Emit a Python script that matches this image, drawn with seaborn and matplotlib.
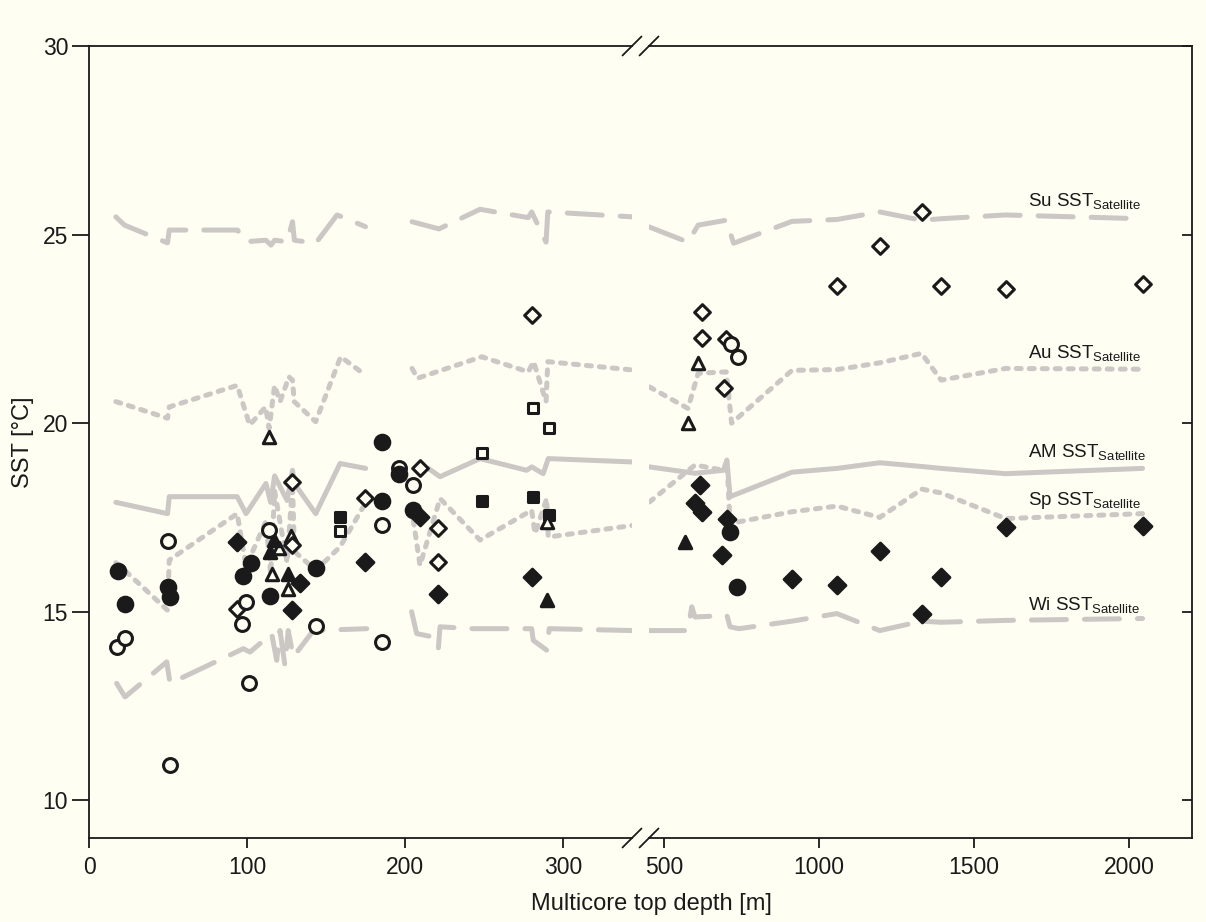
import numpy as np
import matplotlib
matplotlib.use("Agg")
import matplotlib.pyplot as plt
import seaborn as sns

sns.set_theme(style="white")
plt.rcParams['font.family'] = ['Liberation Sans', 'DejaVu Sans']
plt.rcParams['mathtext.fontset'] = 'custom'
plt.rcParams['mathtext.rm'] = 'Liberation Sans'
plt.rcParams['mathtext.it'] = 'Liberation Sans:italic'

BG = '#fefef3'
GREY = '#cbc7c5'
INK = '#1a1a1a'
nan = np.nan

# ---------------- satellite SST lines (depth m, SST degC) ----------------
su_x = [17, 22.5, 49.7, 50.8, 94, 99.4, 112, 115.2, 117.5, 125.4, 128.8, 130, 143.5, 157, 175, nan,
        204.5, 221.5, 247.5, 278, 280.2, 289.3, 290.4, 344,
        nan, 453, 577, 610, 700.8, 724.5, 913, 1058, 1196, 1331, 1394, 1602, 2044]
su_y = [25.47, 25.25, 24.78, 25.12, 25.12, 24.81, 24.85, 24.72, 24.85, 24.81, 25.34, 24.85, 24.77, 25.52, 25.21, nan,
        25.34, 25.15, 25.67, 25.45, 25.6, 24.8, 25.6, 25.47,
        nan, 25.2, 24.8, 25.25, 25.38, 24.77, 25.35, 25.4, 25.6, 25.38, 25.42, 25.52, 25.42]

au_x = [17, 22.5, 49.7, 50.8, 93.8, 101.7, 111.8, 114, 117.5, 120.9, 124.3, 126.5, 128.8, 129.9, 143.5, 159.3, 175.1, nan,
        204.5, 207.9, 248.6, 278, 281.4, 289.3, 290.4, 344,
        nan, 453, 577, 610, 700.8, 718, 913, 1058, 1196, 1331, 1394, 1602, 2044]
au_y = [20.57, 20.5, 20.13, 20.43, 21.0, 19.95, 20.43, 19.86, 21.0, 20.57, 20.96, 21.23, 21.14, 20.57, 20.04, 21.76, 21.27, nan,
        21.45, 21.19, 21.76, 21.36, 21.63, 20.57, 21.63, 21.41,
        nan, 20.96, 20.39, 21.32, 21.36, 20.0, 21.4, 21.42, 21.6, 21.85, 21.14, 21.45, 21.43]

am_x = [17, 22.5, 49.7, 50.8, 93.8, 99.4, 112, 115, 117.5, 125.4, 128.8, 130, 143.5, 158.9, 175.1, nan,
        214.8, 222.2, 247.5, 277, 280.2, 287.5, 290.7, 344.5,
        nan, 453, 600, 692, 703, 713, 913, 1058, 1196, 1332, 1394, 1602, 2044]
am_y = [17.9, 17.85, 17.6, 18.05, 18.05, 17.6, 18.4, 17.9, 18.6, 17.95, 18.75, 18.4, 17.6, 18.93, 18.8, nan,
        18.8, 18.58, 19.06, 18.75, 18.84, 18.66, 19.06, 18.97,
        nan, 18.84, 18.67, 18.75, 19.02, 18.05, 18.7, 18.8, 18.95, 18.85, 18.8, 18.66, 18.8]

sp_x = [17, 22.5, 49.7, 50.8, 93.8, 99.4, 112, 115, 117.5, 125.4, 128.8, 130, 143.5, 158.9, 173.6, nan,
        205.3, 209.5, 222.2, 247.5, 280.2, 282.3, 289.7, 290.7, 344.5,
        nan, 453, 600, 692, 703, 713, 913, 1058, 1196, 1332, 1394, 1602, 2044]
sp_y = [16.3, 16.1, 15.04, 16.37, 17.6, 16.2, 17.4, 16.0, 18.2, 16.3, 18.4, 16.6, 16.1, 16.72, 17.78, nan,
        17.43, 16.23, 18.0, 16.9, 17.69, 17.07, 18.0, 16.98, 17.29,
        nan, 17.91, 18.89, 18.75, 19.0, 17.34, 17.65, 17.8, 17.5, 18.25, 18.15, 17.47, 17.6]

wi_x = [17.5, 22.8, 49.2, 51.3, 97.7, 101.9, 115.6, 118.8, 120.9, 124, 126.1, 129.3, 142, 175.8, nan,
        204.2, 207.4, 217.9, 221.1, 222.2, 243.2, 280.2, 281.2, 289.7, 291.3, 344.5,
        nan, 453, 577, 589.5, 600, 703, 713, 742, 913, 1058, 1196, 1332, 1394, 1602, 2044]
wi_y = [13.1, 12.74, 13.67, 13.1, 14.02, 13.93, 14.42, 13.71, 14.5, 13.58, 14.5, 13.8, 14.5, 14.55, nan,
        15.0, 14.42, 14.33, 14.02, 14.6, 14.55, 14.55, 14.24, 13.98, 14.55, 14.5,
        nan, 14.5, 14.5, 15.13, 14.86, 14.9, 14.6, 14.55, 14.75, 14.95, 14.5, 14.75, 14.72, 14.77, 14.82]

# ---------------- multicore data points (depth m, SST degC) ----------------
fcirc_x = [18.6, 22.8, 50.2, 51.3, 97.3, 102.3, 114.6, 143.7, 185.2, 185.2, 196.4, 205.3, 713, 735]
fcirc_y = [16.08, 15.2, 15.66, 15.39, 15.94, 16.3, 15.41, 16.16, 19.5, 17.94, 18.65, 17.7, 17.12, 15.66]

ocirc_x = [17.9, 22.8, 50.2, 51.3, 96.6, 99.2, 101.5, 114, 143.7, 185.2, 185.2, 196.4, 205.3, 716.6, 739.3]
ocirc_y = [14.07, 14.3, 16.88, 10.93, 14.67, 15.26, 13.11, 17.16, 14.62, 17.3, 14.2, 18.82, 18.36, 22.11, 21.76]

fdiam_x = [93.5, 128.3, 133.5, 174.7, 209.5, 221, 280.2, 600, 616.4, 622, 686.5, 702.7, 913,
           1058, 1196, 1332, 1394, 1602, 2044]
fdiam_y = [16.85, 15.04, 15.75, 16.32, 17.52, 15.48, 15.93, 17.87, 18.36, 17.65, 16.5, 17.47, 15.88,
           15.7, 16.6, 14.95, 15.93, 17.25, 17.27]

odiam_x = [93.5, 128.3, 128.3, 174.7, 209.5, 221, 221, 280.2, 624, 624, 699, 692,
           1058, 1196, 1332, 1394, 1602, 2044]
odiam_y = [15.08, 16.76, 18.44, 18.02, 18.82, 17.22, 16.33, 22.86, 22.94, 22.27, 22.22, 20.92,
           23.63, 24.69, 25.6, 23.63, 23.57, 23.7]

ftri_x = [114.6, 117, 126, 289.7, 568]
ftri_y = [16.59, 16.9, 16.0, 15.3, 16.85]

otri_x = [114, 116, 120, 126, 128, 289.7, 577, 610]
otri_y = [19.64, 16.0, 16.7, 15.6, 17.0, 17.38, 20.0, 21.6]

fsq_x = [158.9, 248.5, 280.8, 291.3]
fsq_y = [17.5, 17.94, 18.03, 17.56]

osq_x = [158.9, 248.5, 280.8, 291.3]
osq_y = [17.15, 19.21, 20.39, 19.86]

labels = ["Su", "Au", "AM", "Sp", "Wi"]
label_y = [25.76, 21.72, 19.10, 17.82, 15.04]
label_x = 1674

xticks_left = [0, 100, 200, 300]
xticks_right = [500, 1000, 1500, 2000]
yticks = [10, 15, 20, 25, 30]

# ---------------- figure ----------------
W, H = 1206, 922
fig = plt.figure(figsize=(W / 100, H / 100), dpi=100, facecolor=BG)
axL = fig.add_axes([89 / W, 84 / H, 543 / W, 792 / H], facecolor=BG)
axR = fig.add_axes([649 / W, 84 / H, 543 / W, 792 / H], facecolor=BG, sharey=axL)

long_dash = (0, (7.0, 3.6))
short_dash = (0, (1.0, 1.6))
line_specs = [(su_x, su_y, long_dash), (au_x, au_y, short_dash), (am_x, am_y, '-'),
              (sp_x, sp_y, short_dash), (wi_x, wi_y, long_dash)]

for ax in (axL, axR):
    for xs, ys, ls in line_specs:
        ax.plot(xs, ys, color=GREY, lw=3.6, linestyle=ls, dash_capstyle='round',
                solid_capstyle='round', solid_joinstyle='round', zorder=2)

    def sc(x, y, m, size, filled):
        sns.scatterplot(x=x, y=y, marker=m, s=size, ax=ax,
                        facecolor=INK if filled else BG, edgecolor=INK,
                        linewidth=2.2, zorder=4, legend=False)

    sc(osq_x, osq_y, 's', 62, False)
    sc(fsq_x, fsq_y, 's', 62, True)
    sc(otri_x, otri_y, '^', 80, False)
    sc(ftri_x, ftri_y, '^', 80, True)
    sc(odiam_x, odiam_y, 'D', 64, False)
    sc(fdiam_x, fdiam_y, 'D', 72, True)
    sc(ocirc_x, ocirc_y, 'o', 100, False)
    sc(fcirc_x, fcirc_y, 'o', 110, True)

axL.set_xlim(0, 343.7)
axR.set_xlim(451.5, 2203.6)
axL.set_ylim(9, 30)

for ax in (axL, axR):
    for s in ax.spines.values():
        s.set_color(INK)
        s.set_linewidth(1.3)
axL.spines['right'].set_visible(False)
axR.spines['left'].set_visible(False)

axL.set_xticks(xticks_left)
axR.set_xticks(xticks_right)
axL.set_yticks(yticks)
axL.tick_params(axis='x', direction='out', length=7, width=1.3, color=INK,
                labelsize=16.5, labelcolor=INK, bottom=True, pad=6)
axL.tick_params(axis='y', direction='out', length=12, width=1.3, color=INK,
                labelsize=16.5, labelcolor=INK, left=True, pad=3)
axR.tick_params(axis='x', direction='out', length=7, width=1.3, color=INK,
                labelsize=16.5, labelcolor=INK, bottom=True, pad=6)
axR.tick_params(axis='y', direction='in', length=7, width=1.3, color=INK,
                left=False, right=True, labelleft=False, labelright=False)

axL.set_ylabel("SST [°C]", fontsize=17, color=INK, labelpad=6)
fig.text(651 / W, 0.008, "Multicore top depth [m]", ha='center', va='bottom',
         fontsize=17, color=INK)

for name, ly in zip(labels, label_y):
    axR.text(label_x, ly, name + r" SST$_{\mathrm{Satellite}}$", fontsize=13.5,
             color=INK, va='baseline', ha='left', zorder=5)

# axis break marks
dx, dy = 9.5 / 543, 9.5 / 792
for yy in (0, 1):
    axL.plot([1 - dx, 1 + dx], [yy - dy, yy + dy], transform=axL.transAxes,
             color=INK, lw=1.3, clip_on=False, zorder=6)
    axR.plot([-dx, dx], [yy - dy, yy + dy], transform=axR.transAxes,
             color=INK, lw=1.3, clip_on=False, zorder=6)

fig.savefig("out.png", dpi=100, facecolor=BG)
